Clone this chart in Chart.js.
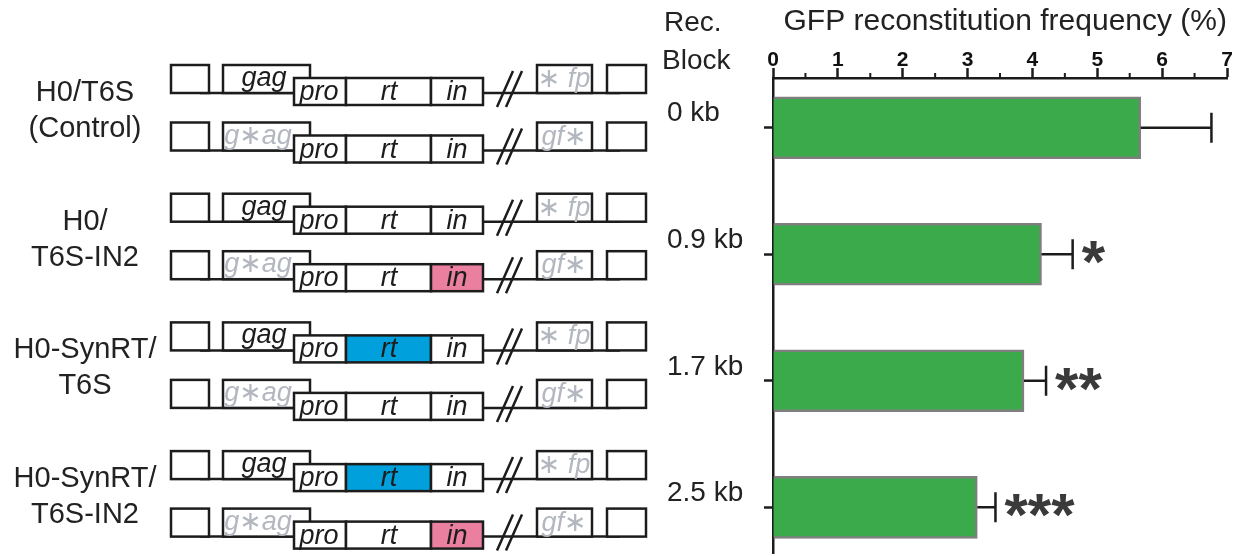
<!DOCTYPE html>
<html>
<head>
<meta charset="utf-8">
<script src="https://cdn.jsdelivr.net/npm/chart.js@4.4.1/dist/chart.umd.min.js"></script>
<style>
html,body{margin:0;padding:0;background:#fff;overflow:hidden}
#wrap{position:relative;width:1241px;height:556px}
</style>
</head>
<body>
<div id="wrap"><canvas id="chart" width="1241" height="556"></canvas></div>
<script>
/* ================= DATEN ================= */
const BLOCKS = ["0 kb", "0.9 kb", "1.7 kb", "2.5 kb"];
const FREQ   = [5.67, 4.14, 3.87, 3.15];
const ERR    = [1.09, 0.48, 0.34, 0.28];
const SIG    = ["", "*", "**", "***"];
const MINOR_TICKS = [0.5, 1.5, 2.5, 3.5, 4.5, 5.5, 6.5];

const CONSTRUCTS = [["H0/T6S", "(Control)"], ["H0/", "T6S-IN2"], ["H0-SynRT/", "T6S"], ["H0-SynRT/", "T6S-IN2"]];
const SYN_RT = [false, false, true, true];   // rt im oberen Konstrukt ersetzt
const IN2    = [false, true, false, true];   // in im unteren Konstrukt ersetzt

const FONT = "'Liberation Sans', Arial, 'DejaVu Sans', sans-serif";
const INK = '#1c1c1c', GREY = '#b3b7bf';
const BLUE = '#00a0dc', PINK = '#ea7fa0';

Chart.defaults.font.family = FONT;

/* ================= SCHEMA (links) ================= */
function drawRow(ctx, y0, top, colored){
    ctx.lineWidth = 2.5;
    ctx.strokeStyle = INK;
    ctx.beginPath(); ctx.moveTo(200, y0); ctx.lineTo(620, y0); ctx.stroke();

    const box = (x1, x2, ya, yb, fill) => {
        ctx.fillStyle = fill || '#fff';
        ctx.fillRect(x1, ya, x2 - x1, yb - ya);
        ctx.strokeRect(x1, ya, x2 - x1, yb - ya);
    };
    box(171, 209, y0 - 28, y0);
    box(223, 310, y0 - 28, y0);
    box(294, 346, y0 - 15, y0 + 12);
    box(346, 431, y0 - 15, y0 + 12, top && colored ? BLUE : null);
    box(431, 483, y0 - 15, y0 + 12, !top && colored ? PINK : null);
    box(537, 592, y0 - 28, y0);
    box(607, 646, y0 - 28, y0);

    // Unterbrechung //
    ctx.beginPath();
    ctx.moveTo(497, y0 + 14); ctx.lineTo(513, y0 - 22);
    ctx.moveTo(506, y0 + 14); ctx.lineTo(522, y0 - 22);
    ctx.stroke();

    ctx.font = 'italic 27px ' + FONT;
    ctx.textAlign = 'center';
    ctx.textBaseline = 'alphabetic';
    ctx.fillStyle = top ? INK : GREY;
    ctx.fillText(top ? 'gag' : 'g\u2217ag', top ? 264 : 258, y0 - 7);
    ctx.fillStyle = INK;
    ctx.fillText('pro', 319, y0 + 7);
    ctx.fillText('rt', 389, y0 + 7);
    ctx.fillText('in', 457, y0 + 7);
    ctx.fillStyle = GREY;
    ctx.fillText(top ? '\u2217 fp' : 'gf\u2217', 564, y0 - 6);
}

const schematic = {
    id: 'schematic',
    afterDraw(chart){
        const ctx = chart.ctx;
        ctx.save();
        CONSTRUCTS.forEach((lines, g) => {
            const base = 93 + g * 128.7;
            drawRow(ctx, base, true, SYN_RT[g]);
            drawRow(ctx, base + 57.5, false, IN2[g]);
            ctx.font = '29px ' + FONT;
            ctx.fillStyle = '#222';
            ctx.textAlign = 'center';
            ctx.textBaseline = 'middle';
            ctx.fillText(lines[0], 85, base);
            ctx.fillText(lines[1], 85, base + 36);
        });
        ctx.font = '28px ' + FONT;
        ctx.textAlign = 'left';
        ctx.fillText('Rec.', 664, 23);
        ctx.fillText('Block', 662, 61);
        ctx.restore();
    }
};

/* ================= FEHLERBALKEN ================= */
const errorBars = {
    id: 'errorBars',
    afterDatasetsDraw(chart){
        const {ctx, scales: {x}} = chart;
        const meta = chart.getDatasetMeta(0);
        ctx.save();
        ctx.strokeStyle = INK;
        ctx.lineWidth = 2.5;
        meta.data.forEach((bar, i) => {
            const xe = x.getPixelForValue(FREQ[i] + ERR[i]);
            ctx.beginPath();
            ctx.moveTo(bar.x, bar.y); ctx.lineTo(xe, bar.y);
            ctx.moveTo(xe, bar.y - 15); ctx.lineTo(xe, bar.y + 15);
            ctx.stroke();
            if(SIG[i]){
                ctx.fillStyle = '#3a3a3a';
                ctx.font = 'bold 60px ' + FONT;
                ctx.textAlign = 'left';
                ctx.textBaseline = 'alphabetic';
                ctx.fillText(SIG[i], xe + 9, bar.y + 28);
            }
        });
        // kleine Zwischenstriche an der Achse
        const top = chart.chartArea.top;
        ctx.lineWidth = 2;
        ctx.beginPath();
        MINOR_TICKS.forEach(v => {
            const px = x.getPixelForValue(v);
            ctx.moveTo(px, top); ctx.lineTo(px, top - 5);
        });
        ctx.stroke();
        ctx.restore();
    }
};

/* ================= CHART ================= */
new Chart(document.getElementById('chart'), {
    type: 'bar',
    data: {
        datasets: [{
            data: FREQ.map((v, i) => ({x: v, y: i})),
            backgroundColor: '#3aaa4b',
            borderColor: '#7f7f7f',
            borderWidth: 2.5,
            barThickness: 62
        }]
    },
    options: {
        indexAxis: 'y',
        responsive: false,
        animation: false,
        layout: {padding: {left: 667, right: 14, top: 0, bottom: 0}},
        plugins: {legend: {display: false}, tooltip: {enabled: false}},
        scales: {
            x: {
                type: 'linear', position: 'top', min: 0, max: 7,
                ticks: {stepSize: 1, padding: -5, color: '#111', font: {size: 21, weight: 'bold'}},
                grid: {drawOnChartArea: false, tickLength: 10, tickWidth: 2.5, tickColor: INK},
                border: {color: INK, width: 2.5},
                title: {display: true, text: 'GFP reconstitution frequency (%)', color: '#222', align: 'end',
                        font: {size: 30}, padding: {top: 4, bottom: 0}},
                afterFit: s => { s.height = 78; }
            },
            y: {
                type: 'linear', reverse: true, offset: false, min: -0.393, max: 3.361,
                afterBuildTicks: s => { s.ticks = BLOCKS.map((b, i) => ({value: i})); },
                ticks: {callback: v => BLOCKS[v] ?? '', crossAlign: 'far', align: 'end',
                        color: '#222', font: {size: 28}},
                grid: {offset: false, drawOnChartArea: false, tickLength: 9, tickWidth: 2.5, tickColor: INK},
                border: {color: INK, width: 2.5},
                afterFit: s => { s.width = 106; }
            }
        }
    },
    plugins: [errorBars, schematic]
});
</script>
</body>
</html>
